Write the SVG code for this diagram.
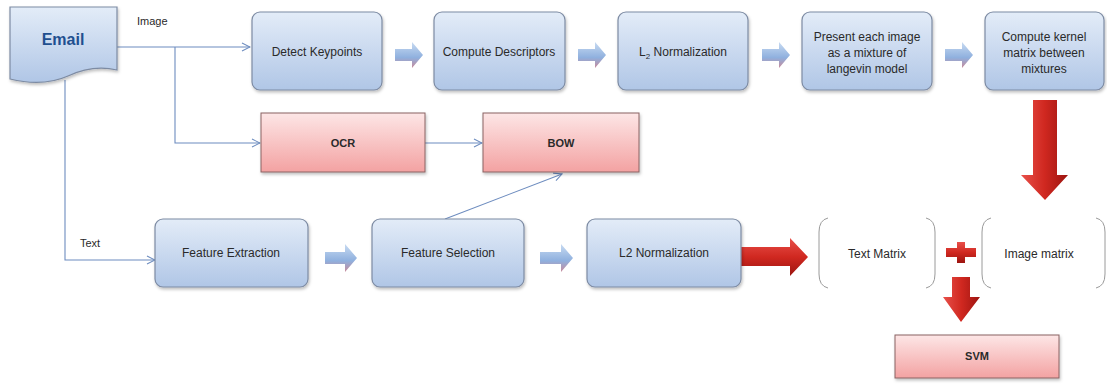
<svg xmlns="http://www.w3.org/2000/svg" width="1107" height="385" viewBox="0 0 1107 385">
<style>
text{font-family:"Liberation Sans",Arial,sans-serif;font-size:12px;fill:#2a2a2a;text-anchor:middle}
.lbl{text-anchor:start;font-size:11px}
.b{font-weight:bold}
.blue{fill:url(#gBlue);stroke:#7d8ba3;stroke-width:1.2;filter:url(#sh)}
.pink{fill:url(#gPink);stroke:#8a6262;stroke-width:1;filter:url(#sh)}
.conn{fill:none;stroke:#6d8cbf;stroke-width:1.1}
.brk{fill:none;stroke:#9a9a9a;stroke-width:1}
.barr{fill:url(#gBArr)}
.rarr{fill:url(#gRed)}
.rarrv{fill:url(#gRedV)}
</style>
<defs>
<linearGradient id="gBlue" x1="0" y1="0" x2="0" y2="1"><stop offset="0" stop-color="#e3ecf8"/><stop offset="1" stop-color="#b0c6e6"/></linearGradient>
<linearGradient id="gPink" x1="0" y1="0" x2="0" y2="1"><stop offset="0" stop-color="#fde6e6"/><stop offset="1" stop-color="#f3a2a2"/></linearGradient>
<linearGradient id="gBArr" x1="0" y1="0" x2="0" y2="1"><stop offset="0" stop-color="#c8dbf2"/><stop offset="0.6" stop-color="#8fb0de"/><stop offset="1" stop-color="#c88a9a"/></linearGradient>
<linearGradient id="gRed" x1="0" y1="0" x2="0" y2="1"><stop offset="0" stop-color="#e8504a"/><stop offset="0.5" stop-color="#d02820"/><stop offset="1" stop-color="#9c1410"/></linearGradient>
<linearGradient id="gRedV" x1="0" y1="0" x2="1" y2="0"><stop offset="0" stop-color="#e8504a"/><stop offset="0.5" stop-color="#d02820"/><stop offset="1" stop-color="#9c1410"/></linearGradient>
<filter id="sh" x="-10%" y="-10%" width="125%" height="130%"><feDropShadow dx="1" dy="2" stdDeviation="1.5" flood-color="#000" flood-opacity="0.25"/></filter>
<marker id="arr" markerWidth="10" markerHeight="10" refX="9" refY="5" orient="auto" markerUnits="userSpaceOnUse"><path d="M1,1 L9,5 L1,9" fill="none" stroke="#6d8cbf" stroke-width="1.1"/></marker>
</defs>

<g id="connectors">
<path class="conn" d="M117,47 H250" marker-end="url(#arr)"/>
<path class="conn" d="M175,47 V143 H260" marker-end="url(#arr)"/>
<path class="conn" d="M425,143 H482" marker-end="url(#arr)"/>
<path class="conn" d="M65,80 V260 H155" marker-end="url(#arr)"/>
<path class="conn" d="M445,219 L562,174" marker-end="url(#arr)"/>
<path class="barr" d="M395,49 H412 V42 L423,55 L412,68 V61 H395 Z"/>
<path class="barr" d="M578,49 H595 V42 L606,55 L595,68 V61 H578 Z"/>
<path class="barr" d="M762,49 H779 V42 L790,55 L779,68 V61 H762 Z"/>
<path class="barr" d="M945,49 H962 V42 L973,55 L962,68 V61 H945 Z"/>
<path class="barr" d="M325,252 H345 V244 L357,258 L345,272 V264 H325 Z"/>
<path class="barr" d="M540,252 H561 V244 L573,258 L561,272 V264 H540 Z"/>
<path class="rarr" d="M741,247 H790 V238 L808,257 L790,276 V266 H741 Z"/>
<path class="rarrv" d="M1033,100 H1057 V175 H1068 L1045,200 L1021,175 H1033 Z"/>
<path class="rarrv" d="M952,277 H970 V297 H980 L961,322 L943,297 H952 Z"/>
<path class="rarr" d="M957,242 H965 V248 H976 V257 H965 V263 H957 V257 H946 V248 H957 Z"/>
</g>

<g id="email">
<path d="M10,7 H117 V70 C100,66 85,68 68,76 C50,84 30,84 10,79 Z" fill="url(#gBlue)" stroke="#7d8ba3" stroke-width="1.2" filter="url(#sh)"/>
<text x="63" y="45" class="b" style="font-size:16px;fill:#1f4f8f">Email</text>
</g>
<text class="lbl" x="137" y="25">Image</text>
<text class="lbl" x="80" y="247">Text</text>

<g id="detect"><rect class="blue" x="252" y="12" width="130" height="78" rx="8"/><text x="317" y="56">Detect Keypoints</text></g>
<g id="descriptors"><rect class="blue" x="434" y="12" width="131" height="78" rx="8"/><text x="499" y="56">Compute Descriptors</text></g>
<g id="l2norm"><rect class="blue" x="618" y="12" width="130" height="78" rx="8"/><text x="683" y="56">L<tspan font-size="8" dy="3">2</tspan><tspan dy="-3"> Normalization</tspan></text></g>
<g id="present"><rect class="blue" x="802" y="12" width="130" height="78" rx="8"/><text x="867" y="41">Present each image</text><text x="867" y="57">as a mixture of</text><text x="867" y="73">langevin model</text></g>
<g id="kernel"><rect class="blue" x="985" y="12" width="119" height="78" rx="8"/><text x="1044" y="41">Compute kernel</text><text x="1044" y="57">matrix between</text><text x="1044" y="73">mixtures</text></g>

<g id="ocr"><rect class="pink" x="261" y="113" width="164" height="59"/><text x="343" y="147" class="b" style="font-size:11px">OCR</text></g>
<g id="bow"><rect class="pink" x="483" y="113" width="156" height="59"/><text x="561" y="147" class="b" style="font-size:11px">BOW</text></g>

<g id="featext"><rect class="blue" x="155" y="219" width="153" height="68" rx="8"/><text x="231" y="257">Feature Extraction</text></g>
<g id="featsel"><rect class="blue" x="372" y="219" width="152" height="68" rx="8"/><text x="448" y="257">Feature Selection</text></g>
<g id="l2norm2"><rect class="blue" x="587" y="219" width="154" height="68" rx="8"/><text x="664" y="257">L2 Normalization</text></g>

<g id="textmatrix">
<path class="brk" d="M828,218 Q819,220 819,232 V274 Q819,286 828,288"/>
<path class="brk" d="M926,218 Q935,220 935,232 V274 Q935,286 926,288"/>
<text x="877" y="258">Text Matrix</text>
</g>
<g id="imagematrix">
<path class="brk" d="M991,218 Q982,220 982,232 V274 Q982,286 991,288"/>
<path class="brk" d="M1096,218 Q1105,220 1105,232 V274 Q1105,286 1096,288"/>
<text x="1039" y="258">Image matrix</text>
</g>

<g id="svm"><rect class="pink" x="895" y="335" width="164" height="43"/><text x="977" y="360" class="b" style="font-size:11px">SVM</text></g>
</svg>
